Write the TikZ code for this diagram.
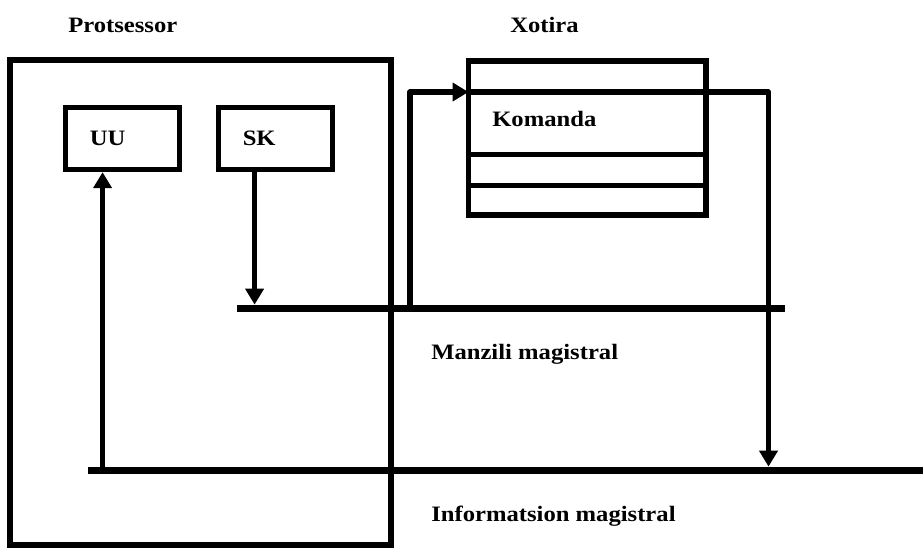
\documentclass[tikz,border=0pt]{standalone}
\usepackage{fontspec}
\setmainfont{Liberation Serif}[FakeStretch=1.12]
\usetikzlibrary{arrows.meta,calc}
\begin{document}
\begin{tikzpicture}[x=0.75pt, y=-0.75pt,
  font=\fontsize{16.5}{20}\selectfont\bfseries,
  frame/.style={draw, line width=3.8pt, inner sep=0pt},
  unit/.style={draw, line width=4pt, minimum height=46.5pt,
    inner xsep=18pt, text width=49.5pt, align=left},
  cell/.style={draw, line width=4pt, minimum width=178.1pt, inner sep=0pt, outer sep=0pt},
  lbl/.style={inner sep=0pt, anchor=base west},
  bus/.style={line width=5.8pt},
  conn/.style={line width=3.9pt},
  arr/.style={conn, -{Triangle[length=12pt,width=13.5pt]}}]
\useasboundingbox (0,0) rectangle (923,547);

% processor block with its two units
\node[frame, minimum width=285.75pt, minimum height=363.75pt] (cpu) at (200.5,302.5) {};
\node[lbl] (cpu-title) at (68,32) {Protsessor};
\node[unit] (uu) at (122.75,138.5) {UU};
\node[unit] (sk) at (275.75,138.5) {SK};

% memory block: three stacked cells
\node[cell, minimum height=70.1pt] (r1) at (587.25,107.75) {};
\node[cell, minimum height=23.25pt, anchor=north] (r2) at (r1.south) {};
\node[cell, minimum height=22.1pt, anchor=north] (r3) at (r2.south) {};
\node[lbl] (kom) at ($(r1.west)+(23.5,18.25)$) {Komanda};
\node[lbl] (mem-title) at (510,32) {Xotira};

% buses
\coordinate (ab-w) at (237,308.5);
\coordinate (ab-e) at (785,308.5);
\coordinate (ib-w) at (88,470.5);
\coordinate (ib-e) at (923,470.5);
\draw[bus] (ab-w) -- (ab-e);
\draw[bus] (ib-w) -- (ib-e);
\node[lbl] (ab-label) at (431,359) {Manzili magistral};
\node[lbl] (ib-label) at (431,521) {Informatsion magistral};

% unit connections
\coordinate (uufoot) at ($(uu.south west)+(39.5,0)$);
\coordinate (skfoot) at ($(sk.south west)+(38.5,0)$);
\draw[arr] (uufoot |- ib-w) -- (uufoot);
\draw[arr, shorten >=2.9pt] (skfoot) -- (skfoot |- ab-w);

% address bus to memory, memory to data bus
\coordinate (loopA) at (410,308.5);
\coordinate (cmdin) at ($(r1.north west)+(0,31)$);
\coordinate (ret) at ($(cmdin)+(300,0)$);
\draw[arr, line join=round] (loopA) |- (cmdin);
\draw[arr, line join=round, shorten >=2.9pt] (cmdin) -- (ret) -- (ret |- ib-w);
\end{tikzpicture}
\end{document}
